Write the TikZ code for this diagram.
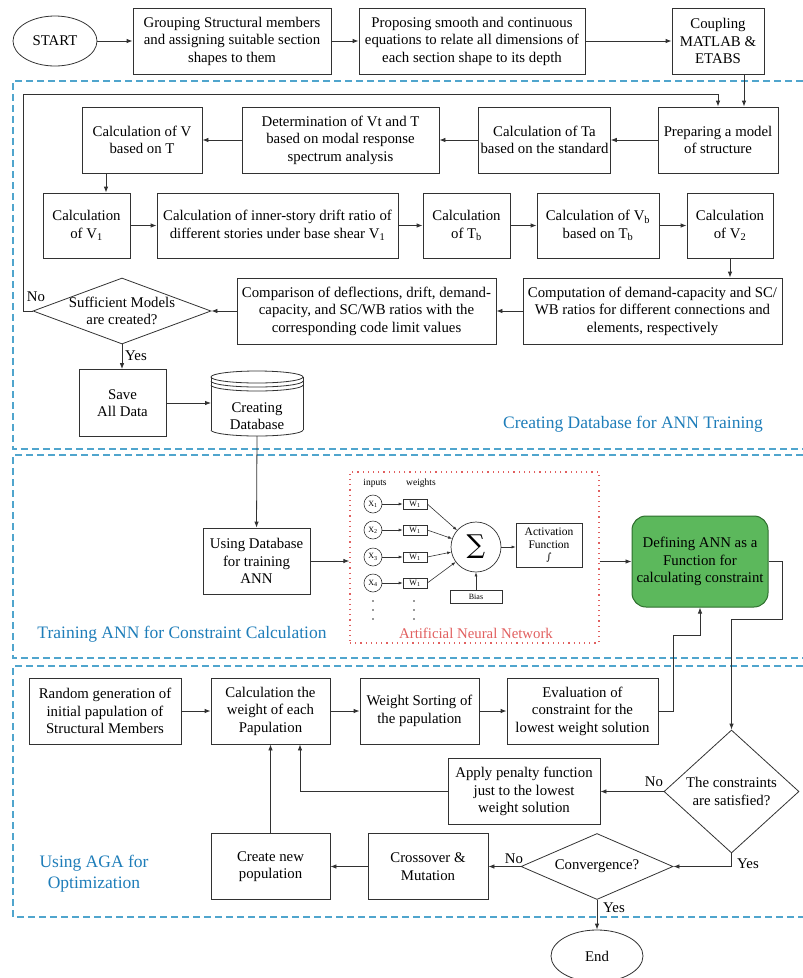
\documentclass[tikz,border=0pt]{standalone}
\usepackage{fontspec}
\setmainfont{Liberation Serif}
\newfontfamily\djv{DejaVu Serif}
\usetikzlibrary{shapes.geometric,arrows.meta,calc}
\definecolor{secblue}{RGB}{80,165,205}
\definecolor{labblue}{RGB}{30,125,185}
\definecolor{annred}{RGB}{225,95,95}
\definecolor{gfill}{RGB}{92,184,92}
\definecolor{gdraw}{RGB}{45,110,45}
\definecolor{lncol}{RGB}{50,50,50}
\begin{document}
\begin{tikzpicture}[x=1pt,y=-1pt,
 every node/.style={font=\fontsize{14.8}{17.5}\selectfont},
 box/.style={draw=lncol, line width=0.8pt, rectangle, align=center, inner sep=2pt, minimum height=66pt},
 term/.style={draw=lncol, line width=0.8pt, ellipse, inner sep=0pt},
 diam/.style={draw=lncol, line width=0.8pt, diamond, inner sep=0pt},
 arr/.style={draw=lncol, line width=0.8pt, -{Latex[length=6pt,width=4.5pt]}},
 sarr/.style={draw=lncol, line width=0.6pt, -{Latex[length=4pt,width=3pt]}},
 plain/.style={draw=lncol, line width=0.8pt},
 sec/.style={draw=secblue, line width=1.1pt, dash pattern=on 7pt off 4pt},
 seclab/.style={text=labblue, font=\fontsize{17.5}{21}\selectfont, align=center},
 lab/.style={inner sep=0pt},
 small/.style={font=\fontsize{8}{9}\selectfont, inner sep=0pt},
]
\useasboundingbox (0,0) rectangle (803,978);

% sections
\draw[sec] (803,81) -- (13,81) -- (13,449) -- (803,449);
\draw[sec] (803,455) -- (13,455) -- (13,658) -- (803,658);
\draw[sec] (803,666) -- (13,666) -- (13,917) -- (803,917);

% row 1
\node[term, minimum width=84pt, minimum height=50pt] (start) at (55,41) {START};
\node[box, minimum width=198pt] (group) at (232,41) {Grouping Structural members\\and assigning suitable section\\shapes to them};
\node[box, minimum width=226pt] (propose) at (472,41) {Proposing smooth and continuous\\equations to relate all dimensions of\\each section shape to its depth};
\node[box, minimum width=92pt] (coupling) at (718,41) {Coupling\\MATLAB \&\\ETABS};

% row 2
\node[box, minimum width=120pt] (prep) at (718,140) {Preparing a model\\of structure};
\node[box, minimum width=131pt] (ta) at (544.5,140) {Calculation of Ta\\based on the standard};
\node[box, minimum width=197pt] (determ) at (340.5,140) {Determination of Vt and T\\based on modal response\\spectrum analysis};
\node[box, minimum width=120pt] (calcv) at (142,140) {Calculation of V\\based on T};

% row 3
\node[box, minimum width=87pt, minimum height=65pt] (v1) at (86.5,225.5) {Calculation\\of V\textsubscript{1}};
\node[box, minimum width=241pt, minimum height=65pt] (drift) at (277.5,225.5) {Calculation of inner-story drift ratio of\\different stories under base shear V\textsubscript{1}};
\node[box, minimum width=87pt, minimum height=65pt] (tb) at (466.5,225.5) {Calculation\\of T\textsubscript{b}};
\node[box, minimum width=122pt, minimum height=65pt] (vb) at (598,225.5) {Calculation of V\textsubscript{b}\\based on T\textsubscript{b}};
\node[box, minimum width=86pt, minimum height=65pt] (v2) at (730,225.5) {Calculation\\of V\textsubscript{2}};

% row 4
\node[box, minimum width=259pt] (comp) at (652.5,311) {Computation of demand-capacity and SC/\\WB ratios for different connections and\\elements, respectively};
\node[box, minimum width=259pt] (compar) at (366.5,311) {Comparison of deflections, drift, demand-\\capacity, and SC/WB ratios with the\\corresponding code limit values};
\node[diam, minimum width=178pt, minimum height=66pt] (suff) at (122,311) {};
\node[align=center, inner sep=0pt] (sufft) at (122,311) {Sufficient Models\\are created?};
\node[lab] (no1) at (36,297) {No};
\node[lab] (yes1) at (136,356) {Yes};

% save & database
\node[box, minimum width=87pt, minimum height=67pt] (save) at (122.5,403) {Save\\All Data};
\draw[plain] (257,377) ellipse [x radius=46pt, y radius=6pt];
\draw[plain] (211,377) -- (211,430);
\draw[plain] (303,377) -- (303,430);
\draw[plain] (211,430) arc[start angle=180, end angle=360, x radius=46pt, y radius=6pt];
\draw[plain] (211,381) arc[start angle=180, end angle=360, x radius=46pt, y radius=6pt];
\draw[plain] (211,385) arc[start angle=180, end angle=360, x radius=46pt, y radius=6pt];
\coordinate (dbw) at (211,403);
\coordinate (dbb) at (257,436);
\node[align=center, inner sep=0pt] (dbt) at (257,416) {Creating\\Database};
\node[seclab] (lab1) at (633,424) {Creating Database for ANN Training};

% section 2
\node[box, minimum width=107pt] (useann) at (256.5,561) {Using Database\\for training\\ANN};
\node[draw=annred, line width=1.3pt, dash pattern=on 1.2pt off 4pt, minimum width=249pt, minimum height=171pt, inner sep=0pt] (annbox) at (474.5,557.5) {};
\node[text=annred] (annlab) at (476,633) {Artificial Neural Network};
\node[small, font=\fontsize{9.5}{11}\selectfont] (inp) at (375,483) {inputs};
\node[small, font=\fontsize{9.5}{11}\selectfont] (wts) at (421,483) {weights};
\foreach \i/\yy in {1/504,2/530,3/557,4/583}{
  \node[draw=lncol, line width=0.6pt, circle, minimum size=18pt, small] (x\i) at (373,\yy) {X\textsubscript{\i}};
  \node[draw=lncol, line width=0.6pt, rectangle, minimum width=24pt, minimum height=10pt, small] (w\i) at (415,\yy) {W\textsubscript{1}};
  \draw[sarr] (x\i) -- (w\i);
}
\node[draw=lncol, line width=0.7pt, circle, minimum size=50pt, inner sep=0pt] (sig) at (476,547) {\djv\fontsize{26}{26}\selectfont ∑};
\foreach \i in {1,...,4}{ \draw[sarr] (w\i.east) -- (sig); }
\node[draw=lncol, line width=0.6pt, rectangle, minimum width=52pt, minimum height=13pt, small] (bias) at (476,596.5) {Bias};
\draw[sarr] (bias) -- (sig);
\node[draw=lncol, line width=0.7pt, rectangle, minimum width=66pt, minimum height=44pt, align=center, inner sep=1pt, font=\fontsize{11.5}{13.5}\selectfont] (act) at (549,545) {Activation\\Function\\[-2pt]{\djv\fontsize{10}{10}\selectfont ∫}};
\draw[sarr] (sig.east) -- (sig.east -| act.west);
\foreach \yy in {601,610,619}{
  \fill[lncol] (373,\yy) circle (0.9);
  \fill[lncol] (414,\yy) circle (0.9);
}
\node[draw=gdraw, fill=gfill, line width=1pt, rounded corners=14pt, minimum width=136pt, minimum height=91pt, align=center] (green) at (700,561.5) {Defining ANN as a\\Function for\\calculating constraint};
\node[seclab] (lab2) at (182,634) {Training ANN for Constraint Calculation};

% section 3
\node[box, minimum width=152pt] (rand) at (105,711) {Random generation of\\initial papulation of\\Structural Members};
\node[box, minimum width=119pt] (calcw) at (270.5,711) {Calculation the\\weight of each\\Papulation};
\node[box, minimum width=119pt] (sort) at (419.5,711) {Weight Sorting of\\the papulation};
\node[box, minimum width=151pt] (eval) at (582.5,711) {Evaluation of\\constraint for the\\lowest weight solution};
\node[diam, minimum width=135pt, minimum height=123pt] (cons) at (731.5,791.5) {};
\node[align=center, inner sep=0pt] (const) at (731.5,791.5) {The constraints\\are satisfied?};
\node[box, minimum width=152pt] (penalty) at (524,791.5) {Apply penalty function\\just to the lowest\\weight solution};
\node[box, minimum width=119pt] (newpop) at (270.5,866.5) {Create new\\population};
\node[box, minimum width=120pt] (cross) at (428,866.5) {Crossover \&\\Mutation};
\node[diam, minimum width=152pt, minimum height=66pt] (conv) at (597,866.5) {};
\node[inner sep=0pt] (convt) at (597,866.5) {Convergence?};
\node[term, minimum width=92pt, minimum height=52pt] (end) at (597,956) {End};
\node[lab] (no2) at (654,782) {No};
\node[lab] (yes2) at (748,864) {Yes};
\node[lab] (no3) at (514,859) {No};
\node[lab] (yes3) at (614,908) {Yes};
\node[seclab] (lab3) at (94,873.5) {Using AGA for\\Optimization};

% connectors
\draw[arr] (start) -- (group);
\draw[arr] (group) -- (propose);
\draw[arr] (propose) -- (coupling);
\draw[arr] ([xshift=26pt]coupling.south) -- ([xshift=26pt]prep.north);
\draw[arr] (suff.west) -- (23,311) -- (23,94) -| (prep.north);
\draw[arr] (prep) -- (ta);
\draw[arr] (ta) -- (determ);
\draw[arr] (determ) -- (calcv);
\draw[arr] ([xshift=-36pt]calcv.south) -- ([xshift=-36pt]calcv.south |- v1.north);
\draw[arr] (v1) -- (drift);
\draw[arr] (drift) -- (tb);
\draw[arr] (tb) -- (vb);
\draw[arr] (vb) -- (v2);
\draw[arr] (v2.south) -- (v2.south |- comp.north);
\draw[arr] (comp) -- (compar);
\draw[arr] (compar) -- (suff);
\draw[arr] (suff.south) -- (suff.south |- save.north);
\draw[arr] (save.east) -- (dbw);
\draw[arr] (dbb) -- (useann.north);
\draw[arr] (useann.east) -- (useann.east -| annbox.west);
\draw[arr] (annbox.east |- green.west) -- (green.west);
\draw[arr] (rand) -- (calcw);
\draw[arr] (calcw) -- (sort);
\draw[arr] (sort) -- (eval);
\draw[arr] (eval.east) -| (673,635) -| (green.south);
\draw[arr] (green.east) -| (782,619) -| (cons.north);
\draw[arr] (cons.west) -- (penalty.east);
\draw[arr] (penalty.west) -| ([xshift=29.5pt]calcw.south);
\draw[arr] (newpop) -- (calcw);
\draw[arr] (cross) -- (newpop);
\draw[arr] (conv) -- (cross);
\draw[arr] (cons.south) |- (conv.east);
\draw[arr] (conv.south) -- (end.north);
\end{tikzpicture}
\end{document}
